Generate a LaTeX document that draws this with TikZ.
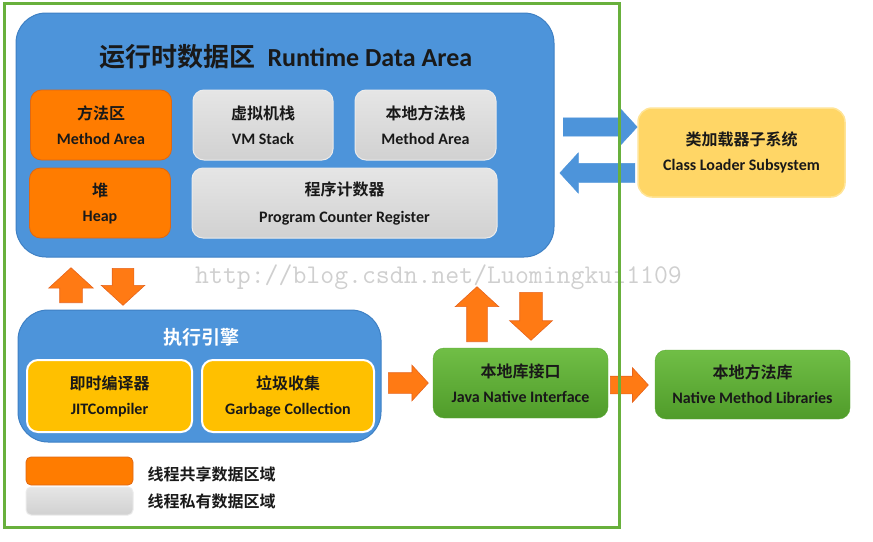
\documentclass[tikz,border=0pt]{standalone}
\usepackage{fontspec}
\setmainfont{Carlito}
\newfontfamily\cjk{Noto Sans CJK SC}[BoldFont=* Bold]
\usetikzlibrary{shapes.arrows, positioning}
\definecolor{rdablue}{RGB}{77,148,218}
\definecolor{blueedge}{RGB}{62,128,196}
\definecolor{shareorange}{RGB}{255,124,0}
\definecolor{orangeedge}{RGB}{222,104,20}
\definecolor{jitgold}{RGB}{255,192,0}
\definecolor{loadergold}{RGB}{255,214,102}
\definecolor{loaderedge}{RGB}{255,228,150}
\definecolor{nativetop}{RGB}{112,190,70}
\definecolor{nativebot}{RGB}{80,156,42}
\definecolor{nativeedge}{RGB}{92,170,55}
\definecolor{framegreen}{RGB}{104,176,60}
\definecolor{arroworange}{RGB}{255,122,20}
\definecolor{arrowedge}{RGB}{230,100,30}
\definecolor{inktext}{RGB}{25,25,25}

\begin{document}
\begin{tikzpicture}[x=1pt, y=-1pt,
    box/.style={draw, rounded corners=11pt, align=center, inner sep=0pt,
                font=\fontsize{16}{25}\selectfont\bfseries, text=inktext},
    shared/.style={box, fill=shareorange, draw=orangeedge, line width=0.8pt},
    private/.style={box, top color=gray!20, bottom color=gray!36, draw=gray!16, line width=1pt},
    engine/.style={box, fill=jitgold, draw=white, line width=2pt},
    native/.style={box, top color=nativetop, bottom color=nativebot, draw=nativeedge},
    loader/.style={box, fill=loadergold, draw=loaderedge, line width=1.5pt, rounded corners=14pt},
    area/.style={draw=blueedge, fill=rdablue, line width=1pt, rounded corners=30pt},
    legendtext/.style={font=\fontsize{16}{16}\selectfont\bfseries\cjk, text=inktext, inner sep=0pt},
    fatarrow/.style n args={3}{single arrow, anchor=tail, single arrow tip angle=95,
                inner xsep=0pt, inner ysep={#2/2}, single arrow head extend={(#1-#2)/2},
                minimum width=0pt, minimum height=#3pt},
    orangearrow/.style n args={3}{fatarrow={#1}{#2}{#3}, fill=arroworange, draw=arrowedge, line width=0.6pt},
    bluearrow/.style n args={3}{fatarrow={#1}{#2}{#3}, fill=rdablue, draw=rdablue}
  ]
  \useasboundingbox (0,0) rectangle (873,541);

  % watermark
  \node[anchor=base west, inner sep=0pt, text=black!19,
        font=\fontsize{27}{27}\selectfont\ttfamily] (mark) at (195,283)
        {http://blog.csdn.net/Luomingkui1109};

  % runtime data area
  \node[area, minimum width=538pt, minimum height=244pt] (rda) at (285,135) {};
  \node[font=\fontsize{26}{26}\selectfont\bfseries, text=inktext] (rdatitle) at (286,57)
       {{\cjk 运行时数据区}\ \ Runtime Data Area};
  \node[shared, minimum width=141pt, minimum height=70pt] (meth) at (101,125)
       {{\cjk 方法区}\\Method Area};
  \node[shared, minimum width=141pt, minimum height=70pt] (heap) at (100,203)
       {{\cjk 堆}\\Heap};
  \node[private, minimum width=140pt, minimum height=70pt] (vms) at (263,125)
       {{\cjk 虚拟机栈}\\VM Stack};
  \node[private, minimum width=141pt, minimum height=70pt] (nms) at (425.5,125)
       {{\cjk 本地方法栈}\\Method Area};
  \node[private, minimum width=305pt, minimum height=70pt] (pcr) at (344.5,203)
       {{\cjk 程序计数器}\\[2pt]Program Counter Register};

  % execution engine
  \node[area, minimum width=363pt, minimum height=132pt] (exec) at (199.5,376) {};
  \node[font=\fontsize{19}{19}\selectfont\bfseries\cjk, text=white] (exectitle) at (201,337) {执行引擎};
  \node[engine, minimum width=165pt, minimum height=72pt] (jit) at (109.5,396)
       {{\cjk 即时编译器}\\JITCompiler};
  \node[engine, minimum width=172pt, minimum height=72pt] (gc) at (288,396)
       {{\cjk 垃圾收集}\\Garbage Collection};

  % native side and class loader
  \node[native, minimum width=175pt, minimum height=70pt] (jni) at (520.5,383)
       {{\cjk 本地库接口}\\Java Native Interface};
  \node[native, minimum width=195pt, minimum height=69pt] (nml) at (752.5,384.5)
       {{\cjk 本地方法库}\\Native Method Libraries};
  \node[loader, minimum width=207pt, minimum height=89pt] (cls) at (741.5,152.5)
       {{\cjk 类加载器子系统}\\Class Loader Subsystem};

  % legend
  \node[shared, rounded corners=5pt, minimum width=107pt, minimum height=28pt] (keyshared) at (79.5,471) {};
  \node[private, rounded corners=5pt, minimum width=107pt, minimum height=28pt] (keyprivate) at (79.5,501) {};
  \node[legendtext, right=14pt of keyshared, yshift=-3pt] (sharedlabel) {线程共享数据区域};
  \node[legendtext, right=14pt of keyprivate] (privatelabel) {线程私有数据区域};

  % block arrows
  \node[orangearrow={44}{22}{35}, rotate=90] (up1) at (71,303) {};
  \node[orangearrow={43}{21}{37}, rotate=-90] (down1) at (123,268) {};
  \node[orangearrow={35}{20}{40}] (tojni) at (388,383) {};
  \node[orangearrow={43}{20}{55}, rotate=90] (up2) at (477,342) {};
  \node[orangearrow={42}{22}{48}, rotate=-90] (down2) at (531,292) {};
  \node[orangearrow={34}{17}{38}] (tonml) at (610,385) {};
  \node[bluearrow={36}{18}{74}] (tocls) at (563,127) {};
  \node[bluearrow={40}{19}{75}, rotate=180] (fromcls) at (635,173) {};

  % outer frame
  \draw[framegreen, line width=3pt] (4,3) rectangle (619,527);
\end{tikzpicture}
\end{document}
